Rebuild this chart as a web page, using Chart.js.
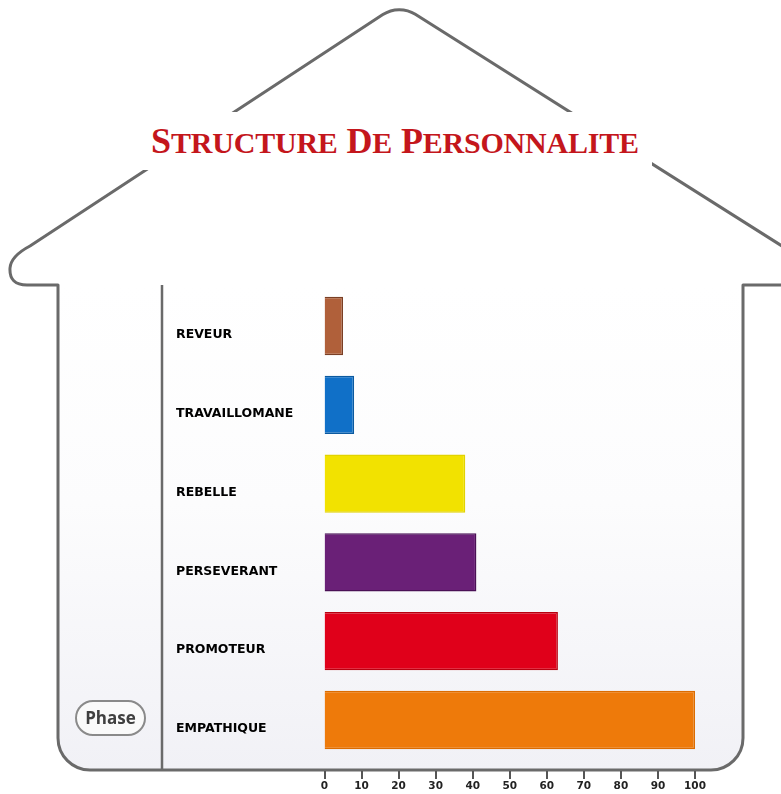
<!DOCTYPE html>
<html lang="fr">
<head>
<meta charset="utf-8">
<title>Structure de Personnalite</title>
<script src="https://cdn.jsdelivr.net/npm/chart.js@4"></script>
<style>
    body { margin: 0; background: #fff; }
    #cadre { position: relative; width: 781px; height: 794px; overflow: hidden; }
    #graphique { position: absolute; left: 0; top: 0; }
    #titre {
        position: absolute; left: 138px; top: 112px; width: 514px; height: 58px;
        background: #fff; text-align: center; white-space: nowrap;
        font-family: "Liberation Serif", serif; font-weight: bold; font-size: 36px;
        line-height: 58px; color: #c4161c; letter-spacing: -0.2px;
    }
    #titre .petit { font-size: 30px; }
    #phase {
        position: absolute; left: 75px; top: 700px; width: 71px; height: 36px;
        box-sizing: border-box; border: 2px solid #8a8a8a; border-radius: 18px;
        background: #fafafa; text-align: center; line-height: 32px;
        font-family: "Open Sans", sans-serif; font-weight: bold; font-size: 17px; color: #404040;
    }
</style>
</head>
<body>
<div id="cadre">
    <canvas id="graphique" width="781" height="794"></canvas>
    <div id="titre">S<span class="petit">TRUCTURE</span> D<span class="petit">E</span> P<span class="petit">ERSONNALITE</span></div>
    <div id="phase">Phase</div>
</div>
<script>
// Données
const categories = ['REVEUR', 'TRAVAILLOMANE', 'REBELLE', 'PERSEVERANT', 'PROMOTEUR', 'EMPATHIQUE'];
const scores = [5, 8, 38, 41, 63, 100];
const couleurs = ['#b0603a', '#1070c8', '#f2e200', '#6a2077', '#e0001a', '#ee7a0a'];
const bordures = ['#7a3f25', '#0b5aa0', '#e2d300', '#4a1055', '#b8000f', '#dc6c00'];
const echelleMin = 0;
const echelleMax = 100;
const pas = 10;

// Dessin de la maison (décor)
function cheminMaison(ctx) {
    const r = 32;
    ctx.beginPath();
    ctx.moveTo(795, 285);
    ctx.lineTo(743, 285);
    ctx.lineTo(743, 770 - r);
    ctx.arcTo(743, 770, 743 - r, 770, r);
    ctx.lineTo(58 + r, 770);
    ctx.arcTo(58, 770, 58, 770 - r, r);
    ctx.lineTo(58, 285);
    ctx.lineTo(27, 285);
    ctx.quadraticCurveTo(9, 285, 10, 268);
    ctx.quadraticCurveTo(11, 256, 30, 246);
    ctx.arcTo(399, 4, 820, 270, 30);
    ctx.lineTo(820, 270);
}

const maisonPlugin = {
    id: 'maison',
    beforeDraw(chart) {
        const ctx = chart.ctx;
        ctx.save();
        ctx.fillStyle = '#fff';
        ctx.fillRect(0, 0, chart.width, chart.height);

        // fond légèrement grisé vers le bas
        const grad = ctx.createLinearGradient(0, 285, 0, 770);
        grad.addColorStop(0, '#ffffff');
        grad.addColorStop(0.45, '#fcfcfd');
        grad.addColorStop(1, '#f1f1f6');
        ctx.beginPath();
        ctx.roundRect(58, 285, 685, 485, [0, 0, 32, 32]);
        ctx.fillStyle = grad;
        ctx.fill();

        ctx.strokeStyle = '#6a6a6a';
        ctx.lineWidth = 3;
        ctx.lineJoin = 'round';
        cheminMaison(ctx);
        ctx.stroke();

        ctx.lineWidth = 2.5;
        ctx.beginPath();
        ctx.moveTo(162, 285);
        ctx.lineTo(162, 770);
        ctx.stroke();
        ctx.restore();
    },
    afterDraw(chart) {
        // graduations sous la ligne du bas, placées par l'échelle x
        const ctx = chart.ctx;
        const x = chart.scales.x;
        ctx.save();
        ctx.fillStyle = '#555';
        for (let v = echelleMin; v <= echelleMax; v += pas) {
            const px = Math.round(x.getPixelForValue(v));
            ctx.fillRect(px - 1, 771, 2, 8);
        }
        ctx.restore();
    }
};

new Chart(document.getElementById('graphique'), {
    type: 'bar',
    data: {
        labels: categories,
        datasets: [{
            data: scores,
            backgroundColor: couleurs,
            borderColor: bordures,
            borderWidth: 1.5,
            categoryPercentage: 1,
            barPercentage: 0.74
        }]
    },
    options: {
        indexAxis: 'y',
        responsive: false,
        animation: false,
        layout: { padding: { left: 176, top: 286.6, right: 86, bottom: 0 } },
        plugins: {
            legend: { display: false },
            title: { display: false },
            tooltip: { enabled: false }
        },
        scales: {
            x: {
                min: echelleMin,
                max: echelleMax,
                grid: { display: false },
                border: { display: false },
                ticks: {
                    stepSize: pas,
                    padding: 13,
                    color: '#222',
                    font: { family: 'DejaVu Sans', weight: 'bold', size: 10.5 }
                },
                afterFit(scale) { scale.height = 34.6; }
            },
            y: {
                grid: { display: false },
                border: { display: false },
                ticks: {
                    crossAlign: 'far',
                    labelOffset: 9,
                    color: '#000',
                    font: { family: 'DejaVu Sans', weight: 'bold', size: 12.5 }
                },
                afterFit(scale) { scale.width = 148.5; }
            }
        }
    },
    plugins: [maisonPlugin]
});
</script>
</body>
</html>
